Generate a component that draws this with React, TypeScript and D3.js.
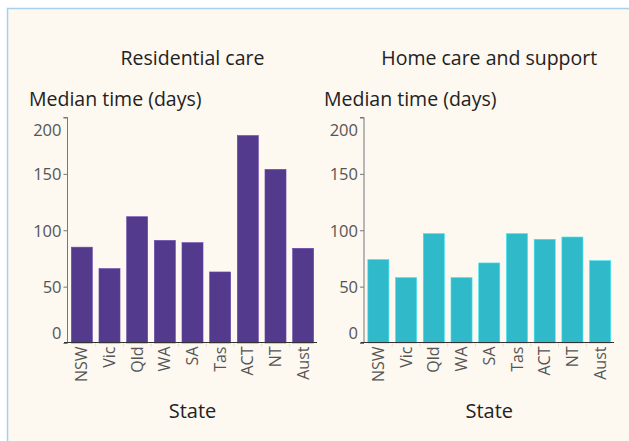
import { useEffect, useRef } from "react";
import * as d3 from "d3";

const states = ["NSW", "Vic", "Qld", "WA", "SA", "Tas", "ACT", "NT", "Aust"];
const residentialDays = [85, 66, 112, 91, 89, 63, 184, 154, 84];
const homeCareDays = [74, 58, 97, 58, 71, 97, 92, 94, 73];
const yTicks = [0, 50, 100, 150, 200];

const W = 629;
const H = 441;
const FONT = "'Open Sans', sans-serif";

const panels = [
  { title: "Residential care", values: residentialDays, color: "#533a8d", x0: 68, x1: 317, yLabelX: 29 },
  { title: "Home care and support", values: homeCareDays, color: "#30b9c9", x0: 364.5, x1: 614, yLabelX: 324 },
];

const App = () => {
  const svgRef = useRef<SVGSVGElement>(null);

  useEffect(() => {
    const svg = d3.select(svgRef.current);
    svg.selectAll("*").remove();

    // background panel
    svg.append("rect").attr("width", W).attr("height", H).attr("fill", "#ffffff");
    svg
      .append("rect")
      .attr("x", 7.5)
      .attr("y", 8.5)
      .attr("width", W + 20)
      .attr("height", H + 20)
      .attr("fill", "#fdf8f0")
      .attr("stroke", "#a9cfee")
      .attr("stroke-width", 1.5);

    const yScale = d3.scaleLinear().domain([0, 200]).range([343, 117.5]);

    panels.forEach((p) => {
      const g = svg.append("g");
      const xScale = d3
        .scaleBand<string>()
        .domain(states)
        .range([p.x0, p.x1])
        .paddingInner(0.24)
        .paddingOuter(0.12);

      // chart title
      g.append("text")
        .attr("x", (p.x0 + p.x1) / 2)
        .attr("y", 65)
        .attr("text-anchor", "middle")
        .attr("font-family", FONT)
        .attr("font-size", 19.5)
        .attr("fill", "#222")
        .text(p.title);

      // y axis title
      g.append("text")
        .attr("x", p.yLabelX)
        .attr("y", 106)
        .attr("font-family", FONT)
        .attr("font-size", 19.5)
        .attr("fill", "#222")
        .text("Median time (days)");

      // faint band separators
      g.selectAll(".sep")
        .data(states.slice(1))
        .join("line")
        .attr("x1", (d) => (xScale(d) as number) - (xScale.step() - xScale.bandwidth()) / 2)
        .attr("x2", (d) => (xScale(d) as number) - (xScale.step() - xScale.bandwidth()) / 2)
        .attr("y1", 343)
        .attr("y2", 347)
        .attr("stroke", "#e6e0d8");

      // bars
      g.selectAll(".bar")
        .data(p.values)
        .join("rect")
        .attr("x", (d, i) => xScale(states[i]) as number)
        .attr("y", (d) => yScale(d))
        .attr("width", xScale.bandwidth())
        .attr("height", (d) => yScale(0) - yScale(d))
        .attr("fill", p.color)
        .attr("stroke", d3.color(p.color)!.brighter(0.6).toString())
        .attr("stroke-width", 0.6);

      // y axis
      const yAxis = d3
        .axisLeft(yScale)
        .tickValues(yTicks)
        .tickSize(4)
        .tickPadding(2)
        .tickFormat(d3.format("d"));
      const ya = g
        .append("g")
        .attr("transform", `translate(${p.x0 - 0.5},0)`)
        .call(yAxis);
      ya.select(".domain").attr("stroke", "#777").attr("d", `M-4,117.5H0V343`);
      ya.selectAll(".tick line").attr("stroke", "#777");
      ya.selectAll("text")
        .attr("font-family", FONT)
        .attr("font-size", 16.5)
        .attr("fill", "#555")
        .attr("dy", (d: any) => (d === 200 ? "1.1em" : d === 0 ? "-0.3em" : "0.35em"));

      // x axis
      const xa = g
        .append("g")
        .attr("transform", `translate(0,342.5)`)
        .call(d3.axisBottom(xScale).tickSize(0).tickPadding(4));
      xa.select(".domain").attr("stroke", "#333").attr("d", `M${p.x0 - 4},0H${p.x1}`);
      xa.selectAll("text")
        .attr("transform", "rotate(-90)")
        .attr("text-anchor", "end")
        .attr("x", -4)
        .attr("y", 0)
        .attr("dy", "0.35em")
        .attr("font-family", FONT)
        .attr("font-size", 16)
        .attr("fill", "#555");

      // x axis title
      g.append("text")
        .attr("x", (p.x0 + p.x1) / 2)
        .attr("y", 418)
        .attr("text-anchor", "middle")
        .attr("font-family", FONT)
        .attr("font-size", 20)
        .attr("fill", "#222")
        .text("State");
    });
  }, []);

  return (
    <svg
      ref={svgRef}
      width={W}
      height={H}
      style={{ position: "absolute", left: 0, top: 0, display: "block" }}
    ></svg>
  );
};

export default App;
